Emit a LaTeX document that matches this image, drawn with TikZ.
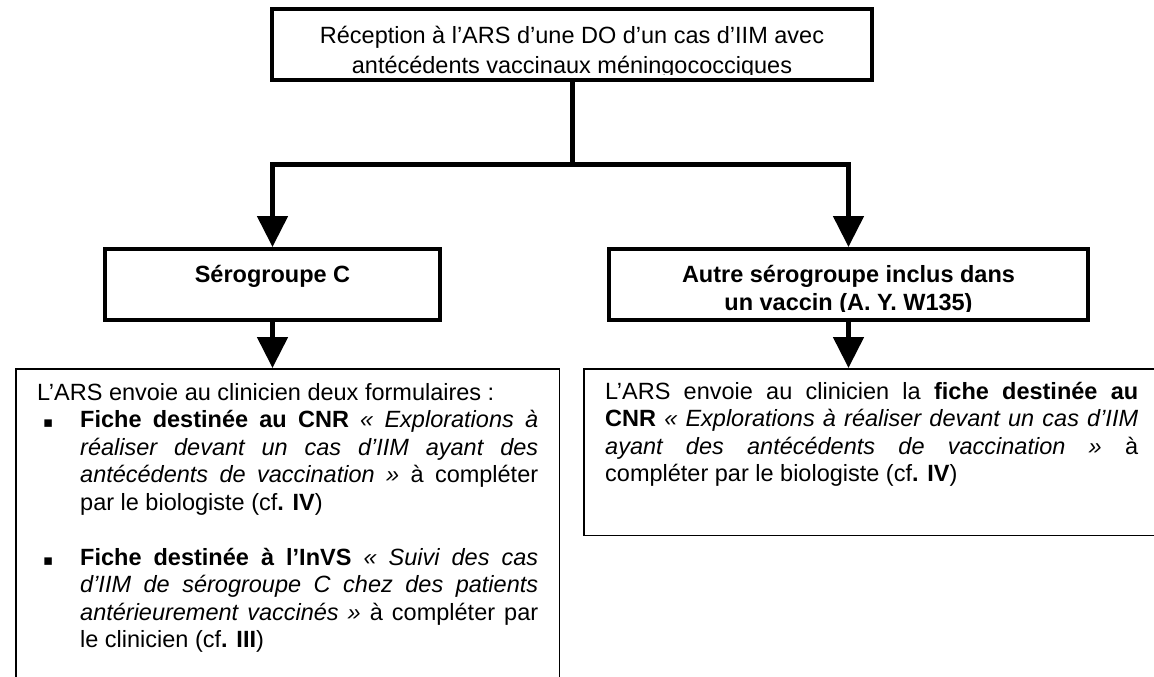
\documentclass[tikz,border=0pt]{standalone}
\usepackage{fontspec}
\setmainfont{Liberation Sans}
\newfontfamily\symfont{DejaVu Sans}
\usetikzlibrary{arrows.meta}
\begin{document}
\begin{tikzpicture}[x=1pt,y=-1pt,
  thickbox/.style={draw, line width=4pt, inner sep=0pt, minimum height=71pt},
  thinbox/.style={draw, line width=1.5pt, inner sep=0pt, anchor=north west},
  conn/.style={line width=5pt},
  arr/.style={conn, -{Triangle[width=30pt,length=31pt]}},
  txt/.style={inner sep=0pt, font=\fontsize{23.5pt}{27.5pt}\selectfont},
  bul/.style={inner sep=0pt, anchor=base west, font=\symfont\fontsize{15pt}{15pt}\selectfont}]
\useasboundingbox (0,0) rectangle (1154,677);

% boxes
\node[thickbox, minimum width=600pt] (top) at (572,44.5) {};
\node[thickbox, minimum width=335pt] (c) at (272.5,284.5) {};
\node[thickbox, minimum width=479pt] (w) at (848.5,284.5) {};
\node[thinbox, minimum width=543.5pt, minimum height=350pt] (lb) at (15,368) {};
\node[thinbox, minimum width=575.5pt, minimum height=166.5pt] (rb) at (583,368) {};

% top text (clipped like the original)
\begin{scope}
  \clip (272,9) rectangle (872,74.5);
  \node[txt, anchor=base] (t1) at (572,44) {Réception à l’ARS d’une DO d’un cas d’IIM avec};
  \node[txt, anchor=base] (t2) at (572,73.5) {antécédents vaccinaux méningococciques};
\end{scope}

\node[txt, anchor=base] (ct) at (272.5,282) {\textbf{Sérogroupe C}};

\begin{scope}
  \clip (609,249) rectangle (1088,311);
  \node[txt, anchor=base] (w1) at (848.5,282) {\textbf{Autre sérogroupe inclus dans}};
  \node[txt, anchor=base] (w2) at (848.5,310) {\textbf{un vaccin (A. Y. W135)}};
\end{scope}

% connectors
\coordinate (j) at (572,164.5);
\draw[conn] (top.south) -- (j);
\draw[arr] (j) -| (c.north);
\draw[arr] (j) -| (w.north);
\draw[arr] (c.south) -- (c.south |- lb.north);
\draw[arr] (w.south) -- (w.south |- rb.north);

% left body text
\node[txt, anchor=base west] (l1) at (37,400) {L’ARS envoie au clinicien deux formulaires :};
\node[bul] (b1) at (43,427.5) {▪};
\node[txt, anchor=base west] (l2) at (80,427.5) {\makebox[458pt][s]{\textbf{Fiche destinée au CNR} \textit{«~Explorations à}}};
\node[txt, anchor=base west] (l3) at (80,455) {\makebox[458pt][s]{\textit{réaliser devant un cas d’IIM ayant des}}};
\node[txt, anchor=base west] (l4) at (80,482.5) {\makebox[458pt][s]{\textit{antécédents de vaccination~»} à compléter}};
\node[txt, anchor=base west] (l5) at (80,510) {par le biologiste (cf\textbf{. IV})};
\node[bul] (b2) at (43,565) {▪};
\node[txt, anchor=base west] (l6) at (80,565) {\makebox[458pt][s]{\textbf{Fiche destinée à l’InVS} \textit{«~Suivi des cas}}};
\node[txt, anchor=base west] (l7) at (80,592.5) {\makebox[458pt][s]{\textit{d’IIM de sérogroupe C chez des patients}}};
\node[txt, anchor=base west] (l8) at (80,620) {\makebox[458pt][s]{\textit{antérieurement vaccinés~»} à compléter par}};
\node[txt, anchor=base west] (l9) at (80,647.5) {le clinicien (cf\textbf{. III})};

% right body text
\node[txt, anchor=base west] (r1) at (605,399) {\makebox[533pt][s]{L’ARS envoie au clinicien la \textbf{fiche destinée au}}};
\node[txt, anchor=base west] (r2) at (605,426.5) {\makebox[533pt][s]{\textbf{CNR} \textit{«~Explorations à réaliser devant un cas d’IIM}}};
\node[txt, anchor=base west] (r3) at (605,454) {\makebox[533pt][s]{\textit{ayant des antécédents de vaccination~»} à}};
\node[txt, anchor=base west] (r4) at (605,481.5) {compléter par le biologiste (cf\textbf{. IV})};
\end{tikzpicture}
\end{document}
